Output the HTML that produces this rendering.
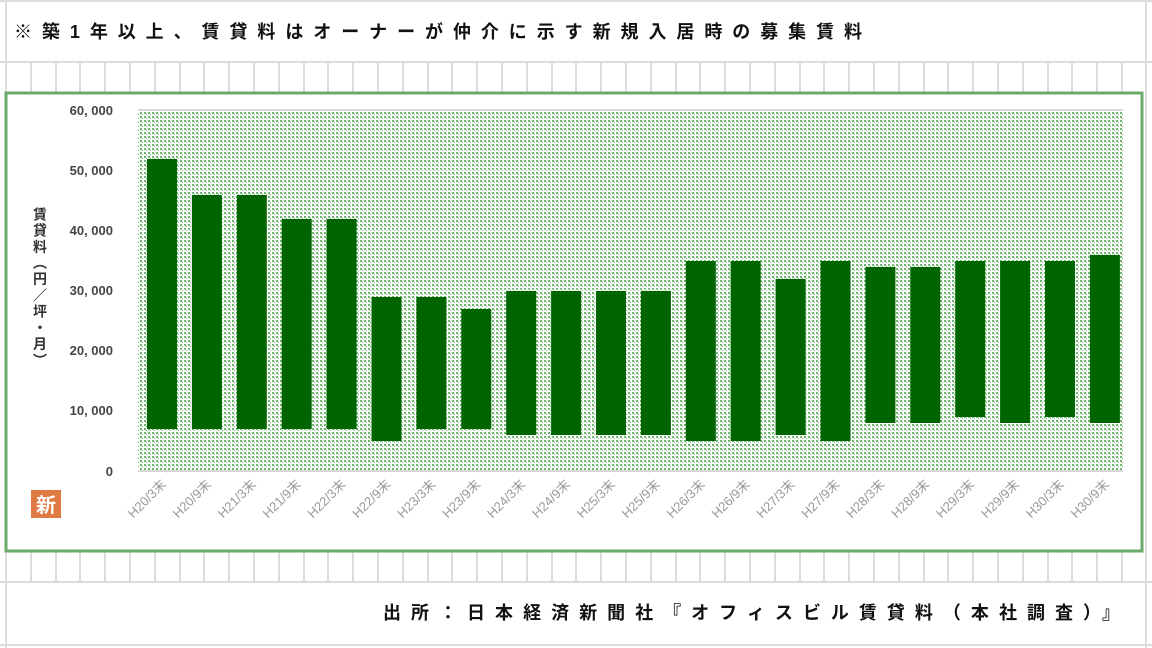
<!DOCTYPE html>
<html><head><meta charset="utf-8"><style>
html,body{margin:0;padding:0;background:#fff;}
svg{display:block;}
text{font-family:"Liberation Sans","Noto Sans CJK JP",sans-serif;}
</style></head><body>
<svg width="1152" height="648" viewBox="0 0 1152 648" xmlns="http://www.w3.org/2000/svg">
<defs>
<pattern id="dots" width="4" height="4" patternUnits="userSpaceOnUse">
<rect width="4" height="4" fill="#ffffff"/>
<rect x="0" y="0" width="2" height="2" fill="#6cb86c"/>
<rect x="2" y="2" width="1" height="1" fill="#6cb86c"/>
</pattern>
</defs>
<g stroke="#dcdcdc" stroke-width="2">
<line x1="0" y1="1" x2="1152" y2="1"/>
<line x1="0" y1="62" x2="1152" y2="62"/>
<line x1="0" y1="582" x2="1152" y2="582"/>
<line x1="0" y1="645" x2="1152" y2="645"/>
<line x1="6" y1="0" x2="6" y2="648"/>
<line x1="1146" y1="0" x2="1146" y2="648"/>
</g>
<g stroke="#dcdcdc" stroke-width="2" id="cols">
<line x1="31" y1="62" x2="31" y2="92"/><line x1="56" y1="62" x2="56" y2="92"/><line x1="80" y1="62" x2="80" y2="92"/><line x1="105" y1="62" x2="105" y2="92"/><line x1="130" y1="62" x2="130" y2="92"/><line x1="155" y1="62" x2="155" y2="92"/><line x1="180" y1="62" x2="180" y2="92"/><line x1="204" y1="62" x2="204" y2="92"/><line x1="229" y1="62" x2="229" y2="92"/><line x1="254" y1="62" x2="254" y2="92"/><line x1="279" y1="62" x2="279" y2="92"/><line x1="304" y1="62" x2="304" y2="92"/><line x1="328" y1="62" x2="328" y2="92"/><line x1="353" y1="62" x2="353" y2="92"/><line x1="378" y1="62" x2="378" y2="92"/><line x1="403" y1="62" x2="403" y2="92"/><line x1="428" y1="62" x2="428" y2="92"/><line x1="452" y1="62" x2="452" y2="92"/><line x1="477" y1="62" x2="477" y2="92"/><line x1="502" y1="62" x2="502" y2="92"/><line x1="527" y1="62" x2="527" y2="92"/><line x1="552" y1="62" x2="552" y2="92"/><line x1="576" y1="62" x2="576" y2="92"/><line x1="601" y1="62" x2="601" y2="92"/><line x1="626" y1="62" x2="626" y2="92"/><line x1="651" y1="62" x2="651" y2="92"/><line x1="676" y1="62" x2="676" y2="92"/><line x1="700" y1="62" x2="700" y2="92"/><line x1="725" y1="62" x2="725" y2="92"/><line x1="750" y1="62" x2="750" y2="92"/><line x1="775" y1="62" x2="775" y2="92"/><line x1="800" y1="62" x2="800" y2="92"/><line x1="824" y1="62" x2="824" y2="92"/><line x1="849" y1="62" x2="849" y2="92"/><line x1="874" y1="62" x2="874" y2="92"/><line x1="899" y1="62" x2="899" y2="92"/><line x1="924" y1="62" x2="924" y2="92"/><line x1="948" y1="62" x2="948" y2="92"/><line x1="973" y1="62" x2="973" y2="92"/><line x1="998" y1="62" x2="998" y2="92"/><line x1="1023" y1="62" x2="1023" y2="92"/><line x1="1048" y1="62" x2="1048" y2="92"/><line x1="1072" y1="62" x2="1072" y2="92"/><line x1="1097" y1="62" x2="1097" y2="92"/><line x1="1122" y1="62" x2="1122" y2="92"/>
</g>
<use href="#cols" transform="translate(0,490)"/>
<text x="14" y="38" font-size="18" font-weight="bold" fill="#111" textLength="848" lengthAdjust="spacing">※築1年以上、賃貸料はオーナーが仲介に示す新規入居時の募集賃料</text>
<rect x="6" y="93" width="1136" height="458" fill="#fff" stroke="#6aaa6a" stroke-width="3"/>
<rect x="138" y="110" width="985" height="361" fill="url(#dots)"/>
<line x1="138" y1="110" x2="1123" y2="110" stroke="#d8d8d8" stroke-width="2"/>
<line x1="138" y1="471" x2="1123" y2="471" stroke="#d8d8d8" stroke-width="2"/>
<g stroke="#eef6ee" stroke-width="1" opacity="0.8">
<line x1="138" y1="170" x2="1123" y2="170"/><line x1="138" y1="230" x2="1123" y2="230"/><line x1="138" y1="290" x2="1123" y2="290"/><line x1="138" y1="350" x2="1123" y2="350"/><line x1="138" y1="410" x2="1123" y2="410"/>
</g>
<g font-size="13" font-weight="bold" fill="#444" text-anchor="end">
<text x="113" y="115">60, 000</text>
<text x="113" y="175">50, 000</text>
<text x="113" y="235">40, 000</text>
<text x="113" y="295">30, 000</text>
<text x="113" y="355">20, 000</text>
<text x="113" y="415">10, 000</text>
<text x="113" y="476">0</text>
</g>
<text x="40" y="207" font-size="14" font-weight="bold" fill="#333" style="writing-mode:vertical-rl" textLength="160" lengthAdjust="spacing">賃貸料（円／坪・月）</text>
<rect x="31" y="490" width="30" height="28" fill="#e07a45"/>
<text x="46" y="512" font-size="20" font-weight="bold" fill="#fff" text-anchor="middle">新</text>
<g fill="#006400" id="bars"></g>
<g id="labels" font-size="13" fill="#999"></g>
<script>
var d=[[52,7],[46,7],[46,7],[42,7],[42,7],[29,5],[29,7],[27,7],[30,6],[30,6],[30,6],[30,6],[35,5],[35,5],[32,6],[35,5],[34,8],[34,8],[35,9],[35,8],[35,9],[36,8]];
var L=["H20/3末","H20/9末","H21/3末","H21/9末","H22/3末","H22/9末","H23/3末","H23/9末","H24/3末","H24/9末","H25/3末","H25/9末","H26/3末","H26/9末","H27/3末","H27/9末","H28/3末","H28/9末","H29/3末","H29/9末","H30/3末","H30/9末"];
var ns="http://www.w3.org/2000/svg",b=document.getElementById("bars"),g=document.getElementById("labels");
function y(v){return 470-v*6;}
for(var i=0;i<22;i++){var cx=162+i*44.9;var r=document.createElementNS(ns,"rect");
r.setAttribute("x",cx-15);r.setAttribute("width",30);r.setAttribute("y",y(d[i][0])+1);r.setAttribute("height",(d[i][0]-d[i][1])*6);b.appendChild(r);
var t=document.createElementNS(ns,"text");t.setAttribute("text-anchor","end");t.setAttribute("transform","translate("+(cx+5)+",485) rotate(-45)");t.textContent=L[i];g.appendChild(t);}
</script>
<text x="383" y="619" font-size="18" font-weight="bold" fill="#111" textLength="737" lengthAdjust="spacing">出所：日本経済新聞社『オフィスビル賃貸料（本社調査）』</text>
</svg>
</body></html>
